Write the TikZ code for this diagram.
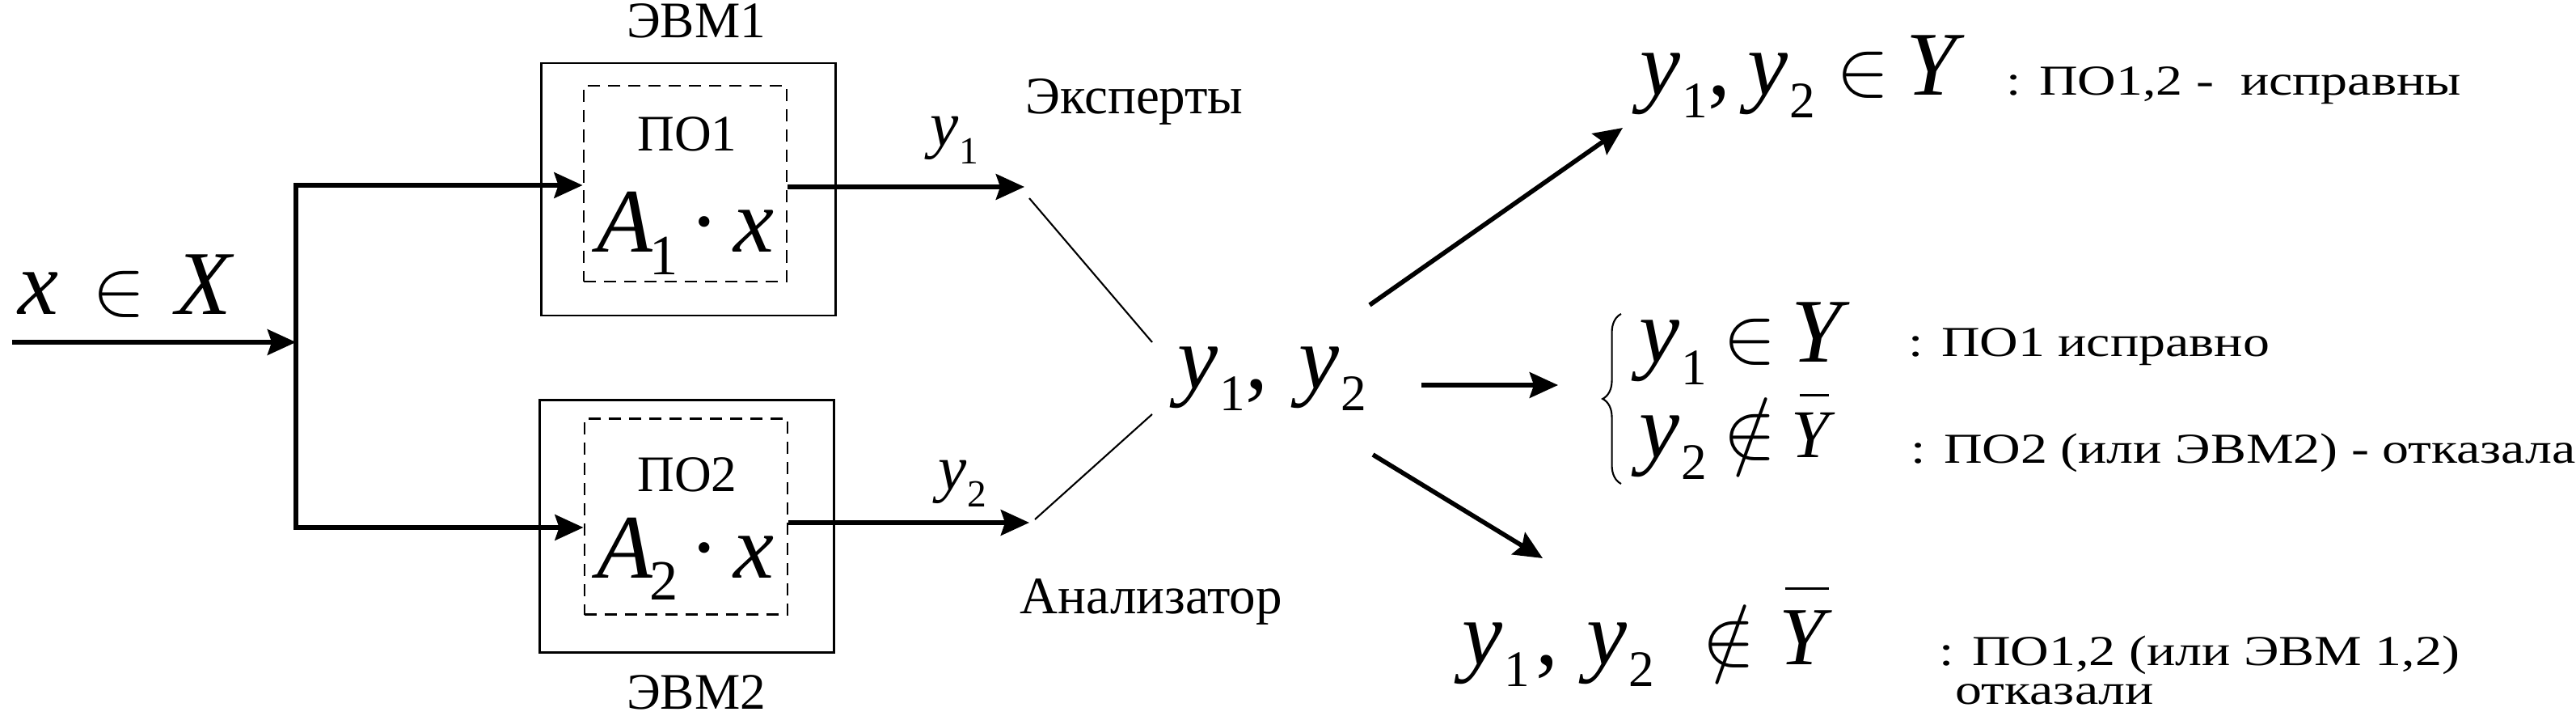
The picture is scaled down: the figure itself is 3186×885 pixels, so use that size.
\documentclass[tikz,border=0pt]{standalone}
\usepackage{graphicx}
\usepackage{fontspec}
\setmainfont{Liberation Serif}
\usetikzlibrary{arrows.meta,decorations.pathreplacing}
\newcommand\mi[1]{\textit{#1}}
\newcommand\widetxt[1]{\scalebox{1.25}[1]{#1}}
\newcommand\bigsub[1]{\hspace{0.5pt}\raisebox{-7.8pt}{\fontsize{18}{18}\selectfont #1}}
\newcommand\asub[1]{\hspace{-1pt}\raisebox{-7.8pt}{\fontsize{20}{20}\selectfont #1}}
\newcommand\smallsub[1]{\hspace{0.3pt}\raisebox{-6pt}{\fontsize{13.5}{14}\selectfont #1}}
\newcommand\elin{\scalebox{2.8}{\fontsize{10}{12}\selectfont$\in$}}
\newcommand\notelin{\scalebox{2.8}{\fontsize{10}{12}\selectfont$\notin$}}
\newcommand\ybar[4]{\makebox[0pt][l]{\hspace{#1}\rule[#2]{#3}{0.9pt}}{\fontsize{#4}{#4}\selectfont\mi{Y}}}
\tikzset{
  lbl/.style={inner sep=0pt, font=\fontsize{18}{21}\selectfont},
  bigm/.style={inner sep=0pt, font=\fontsize{32}{36}\selectfont},
  desc/.style={inner sep=0pt, anchor=base west, font=\fontsize{15}{17}\selectfont},
  outerbox/.style={draw, line width=0.8pt, minimum width=3.63cm, minimum height=3.12cm, inner sep=0pt},
  innerbox/.style={draw, line width=0.8pt, dash pattern=on 4.3pt off 2.8pt, minimum width=2.51cm, minimum height=2.42cm, inner sep=0pt},
  arr/.style={line width=1.6pt, -{Stealth[length=10pt,width=9pt,inset=1.5pt]}},
  thinline/.style={line width=0.6pt},
  bracestyle/.style={line width=0.6pt, decorate, decoration={brace, amplitude=6.5pt}}
}
\begin{document}
\begin{tikzpicture}[x=0.01cm, y=-0.01cm]
\useasboundingbox (0,0) rectangle (3186,885);

% computers
\node[lbl, anchor=base] (evm1) at (861,47) {ЭВМ1};
\node[outerbox] (box1) at (851.5,234) {};
\node[innerbox] (po1) at (847.5,227) {};
\node[lbl, anchor=base] (po1t) at (850,187) {ПО1};
\node[bigm, anchor=base] (a1) at (848,312) {\mi{A}\asub{1}\hspace{4pt}·\hspace{5pt}\mi{x}};

\node[lbl, anchor=base] (evm2) at (861,876) {ЭВМ2};
\node[outerbox] (box2) at (849.5,650.5) {};
\node[innerbox] (po2) at (848.5,638.5) {};
\node[lbl, anchor=base] (po2t) at (850,607) {ПО2};
\node[bigm, anchor=base] (a2) at (848,714) {\mi{A}\asub{2}\hspace{4pt}·\hspace{5pt}\mi{x}};

% input
\node[bigm, anchor=base west] (xin) at (22,389) {\makebox[26pt][l]{\mi{x}}\makebox[29.5pt][l]{\elin}\mi{X}};
\coordinate (in0) at (15,423);
\coordinate (split) at (366,423);
\coordinate (t1) at (366,229);
\coordinate (b1) at (366,652);
\draw[arr] (in0) -- (split);
\draw[arr] (b1) -- (t1) -- (t1 -| po1.west);
\draw[arr] (t1) -- (b1) -- (b1 -| po2.west);

% outputs
\coordinate (out1) at (1267,231);
\coordinate (out2) at (1273,646);
\draw[arr] (po1.east |- out1) -- (out1);
\draw[arr] (po2.east |- out2) -- (out2);
\node[anchor=base west, inner sep=0pt, font=\fontsize{22.5}{24}\selectfont] (ylab1) at (1150,181) {\mi{y}\smallsub{1}};
\node[anchor=base west, inner sep=0pt, font=\fontsize{22.5}{24}\selectfont] (ylab2) at (1160,605) {\mi{y}\smallsub{2}};

\node[lbl, anchor=base, font=\fontsize{18.5}{21}\selectfont] (exp) at (1403,141) {Эксперты};
\node[lbl, anchor=base, font=\fontsize{18.5}{21}\selectfont] (anl) at (1424,758) {Анализатор};

% analyser
\node[bigm, anchor=base west] (yy) at (1456,480) {\mi{y}\bigsub{1},\hspace{11pt}\mi{y}\bigsub{2}};
\coordinate (th1a) at (1273,245);
\coordinate (th1b) at (1425,423);
\coordinate (th2a) at (1280,642);
\coordinate (th2b) at (1425,512);
\draw[thinline] (th1a) -- (th1b);
\draw[thinline] (th2a) -- (th2b);

% decision arrows
\coordinate (r1a) at (1694,377);
\coordinate (r1b) at (2007,158);
\coordinate (r2a) at (1758,476);
\coordinate (r2b) at (1927,476);
\coordinate (r3a) at (1698,562);
\coordinate (r3b) at (1908,690);
\draw[arr] (r1a) -- (r1b);
\draw[arr] (r2a) -- (r2b);
\draw[arr] (r3a) -- (r3b);

% results
\node[bigm, anchor=base west] (res1) at (2028,118) {\makebox[69pt][l]{\mi{y}\bigsub{1},\hspace{6pt}\mi{y}\bigsub{2}}\makebox[24.5pt][l]{\elin}\mi{Y}};
\node[desc] (d1) at (2481,118) {\widetxt{: ПО1,2 -~ исправны}};

\coordinate (brb) at (2005,598);
\coordinate (brt) at (2005,388);
\draw[bracestyle] (brb) -- (brt);
\node[bigm, anchor=base west] (res2a) at (2027,448) {\makebox[29.5pt][l]{\mi{y}\bigsub{1}}\makebox[24pt][l]{\elin}\mi{Y}};
\node[bigm, anchor=base west] (res2b) at (2027,565) {\makebox[29.5pt][l]{\mi{y}\bigsub{2}}\makebox[24pt][l]{\notelin}\ybar{3pt}{21.3pt}{10pt}{24}};
\node[desc] (d2) at (2360,440) {\widetxt{: ПО1 исправно}};
\node[desc] (d3) at (2363,572) {\widetxt{: ПО2 (или ЭВМ2) - отказала}};

\node[bigm, anchor=base west] (res3) at (1808,821) {\makebox[84.5pt][l]{\mi{y}\bigsub{1}\hspace{2pt},\hspace{10pt}\mi{y}\bigsub{2}}\makebox[27pt][l]{\notelin}\ybar{2pt}{26.2pt}{15.5pt}{29}};
\node[desc] (d4) at (2398,822) {\widetxt{: ПО1,2 (или ЭВМ 1,2)}};
\node[desc] (d5) at (2418,870) {\widetxt{отказали}};
\end{tikzpicture}
\end{document}
